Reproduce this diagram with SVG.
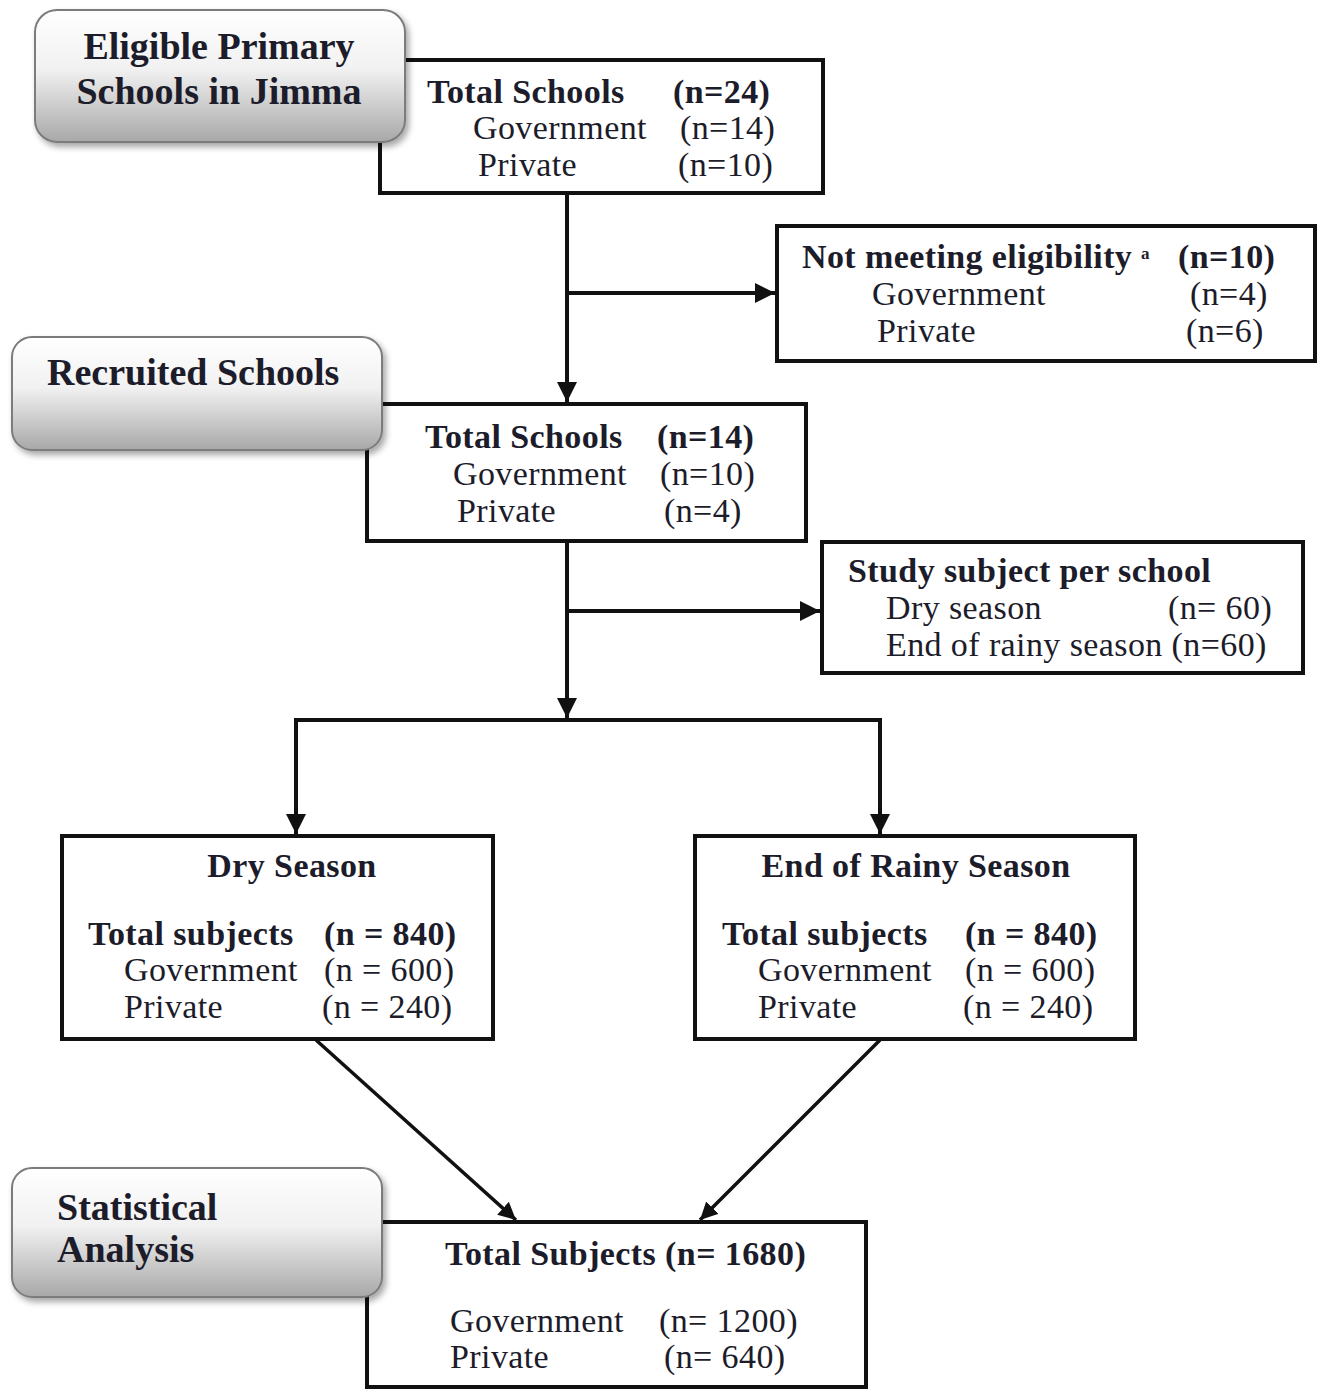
<svg xmlns="http://www.w3.org/2000/svg" width="1319" height="1389" viewBox="0 0 1319 1389">
<style>
text{font-family:"Liberation Serif","Times New Roman",serif;fill:#1c1c2a;font-size:34px;letter-spacing:0.4px}
.b{font-weight:bold}
.g{font-weight:bold;font-size:38px;letter-spacing:0}
.box{fill:#ffffff;stroke:#111;stroke-width:4}
.gray{fill:url(#gg);stroke:#7c7c7c;stroke-width:2;filter:url(#sh)}
.con{fill:none;stroke:#111;stroke-width:4}
.dg{fill:none;stroke:#111;stroke-width:3.5}
</style>
<defs>
<linearGradient id="gg" x1="0" y1="0" x2="0" y2="1">
<stop offset="0" stop-color="#ffffff"/>
<stop offset="0.45" stop-color="#f1f1f1"/>
<stop offset="1" stop-color="#a8a8a8"/>
</linearGradient>
<filter id="sh" x="-10%" y="-10%" width="125%" height="130%">
<feDropShadow dx="3" dy="4" stdDeviation="3" flood-color="#000" flood-opacity="0.35"/>
</filter>
<marker id="ar" viewBox="0 0 10 10" refX="10" refY="5" markerWidth="5" markerHeight="5" orient="auto" markerUnits="strokeWidth">
<path d="M0,0 L10,5 L0,10 z" fill="#111"/>
</marker>
</defs>
<rect width="1319" height="1389" fill="#ffffff"/>

<g id="connectors">
<line class="con" x1="567" y1="193" x2="567" y2="402" marker-end="url(#ar)"/>
<line class="con" x1="567" y1="293" x2="775" y2="293" marker-end="url(#ar)"/>
<line class="con" x1="567" y1="541" x2="567" y2="718" marker-end="url(#ar)"/>
<line class="con" x1="567" y1="611" x2="820" y2="611" marker-end="url(#ar)"/>
<polyline class="con" points="296,834 296,720 880,720 880,834" marker-end="url(#ar)"/>
<line class="con" x1="296" y1="720" x2="296" y2="834" marker-end="url(#ar)"/>
<line class="dg" x1="316" y1="1040" x2="516" y2="1220" marker-end="url(#ar)"/>
<line class="dg" x1="880" y1="1040" x2="700" y2="1220" marker-end="url(#ar)"/>
</g>

<g id="total-schools-24">
<rect class="box" x="380" y="60" width="443" height="133"/>
<text class="b" x="427" y="103">Total Schools</text>
<text class="b" x="673" y="103">(n=24)</text>
<text x="473" y="139">Government</text>
<text x="680" y="139">(n=14)</text>
<text x="478" y="176">Private</text>
<text x="678" y="176">(n=10)</text>
</g>

<g id="eligible">
<rect class="gray" x="35" y="10" width="370" height="132" rx="22"/>
<text class="g" x="219" y="59" text-anchor="middle">Eligible Primary</text>
<text class="g" x="219" y="104" text-anchor="middle">Schools in Jimma</text>
</g>

<g id="not-meeting">
<rect class="box" x="777" y="226" width="538" height="135"/>
<text class="b" x="802" y="268">Not meeting eligibility</text>
<text class="b" x="1141" y="259" style="font-size:17px">a</text>
<text class="b" x="1178" y="268">(n=10)</text>
<text x="872" y="305">Government</text>
<text x="1190" y="305">(n=4)</text>
<text x="877" y="342">Private</text>
<text x="1186" y="342">(n=6)</text>
</g>

<g id="total-schools-14">
<rect class="box" x="367" y="404" width="439" height="137"/>
<text class="b" x="425" y="448">Total Schools</text>
<text class="b" x="657" y="448">(n=14)</text>
<text x="453" y="485">Government</text>
<text x="660" y="485">(n=10)</text>
<text x="457" y="522">Private</text>
<text x="664" y="522">(n=4)</text>
</g>

<g id="recruited">
<rect class="gray" x="12" y="337" width="370" height="113" rx="20"/>
<text class="g" x="47" y="385">Recruited Schools</text>
</g>

<g id="study-subject">
<rect class="box" x="822" y="542" width="481" height="131"/>
<text class="b" x="848" y="582">Study subject per school</text>
<text x="886" y="619">Dry season</text>
<text x="1168" y="619">(n= 60)</text>
<text x="886" y="656">End of rainy season (n=60)</text>
</g>

<g id="dry-season">
<rect class="box" x="62" y="836" width="431" height="203"/>
<text class="b" x="292" y="877" text-anchor="middle">Dry Season</text>
<text class="b" x="88" y="945">Total subjects</text>
<text class="b" x="324" y="945">(n = 840)</text>
<text x="124" y="981">Government</text>
<text x="324" y="981">(n = 600)</text>
<text x="124" y="1018">Private</text>
<text x="322" y="1018">(n = 240)</text>
</g>

<g id="rainy-season">
<rect class="box" x="695" y="836" width="440" height="203"/>
<text class="b" x="916" y="877" text-anchor="middle">End of Rainy Season</text>
<text class="b" x="722" y="945">Total subjects</text>
<text class="b" x="965" y="945">(n = 840)</text>
<text x="758" y="981">Government</text>
<text x="965" y="981">(n = 600)</text>
<text x="758" y="1018">Private</text>
<text x="963" y="1018">(n = 240)</text>
</g>

<g id="total-subjects">
<rect class="box" x="367" y="1222" width="499" height="165"/>
<text class="b" x="445" y="1265">Total Subjects (n= 1680)</text>
<text x="450" y="1332">Government</text>
<text x="659" y="1332">(n= 1200)</text>
<text x="450" y="1368">Private</text>
<text x="664" y="1368">(n= 640)</text>
</g>

<g id="statistical">
<rect class="gray" x="12" y="1168" width="370" height="129" rx="20"/>
<text class="g" x="57" y="1220">Statistical</text>
<text class="g" x="57" y="1262">Analysis</text>
</g>
</svg>
